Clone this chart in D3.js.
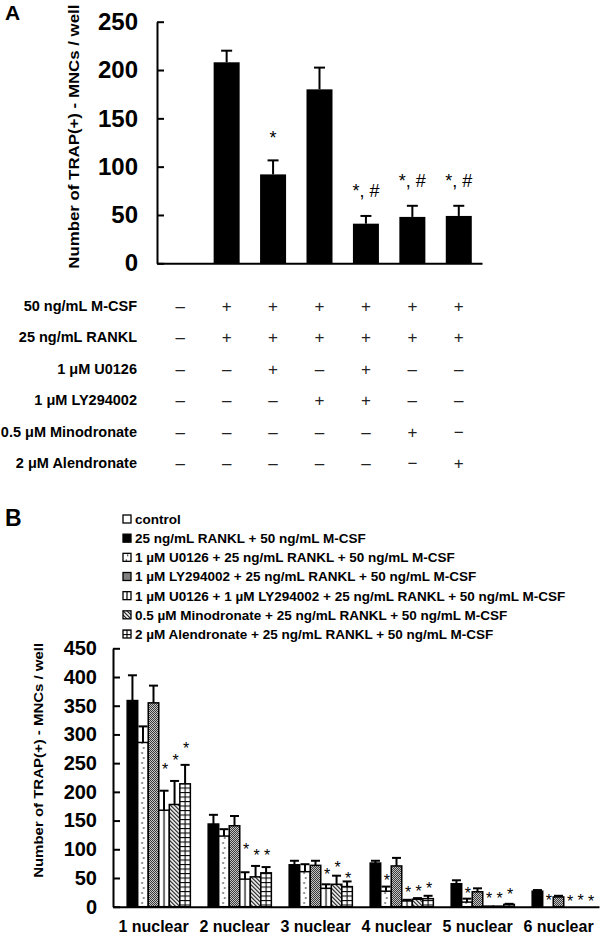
<!DOCTYPE html>
<html>
<head>
<meta charset="utf-8">
<script src="https://cdn.jsdelivr.net/npm/d3@7"></script>
<style>
  body { margin: 0; background: #fff; }
  svg { font-family: "Liberation Sans", Arial, sans-serif; }
</style>
</head>
<body>
<svg id="chart" width="600" height="939"></svg>
<script>
// ---- panel A data ----
const treatA = ["control", "M-CSF+RANKL", "+U0126", "+LY294002", "+U0126+LY294002", "+Minodronate", "+Alendronate"];
const meanA = [0, 208, 92, 180, 41, 48, 49];
const errA = [0, 12, 14.5, 22.5, 8, 11.5, 10.5];
const markA = ["", "", "*", "", "*, #", "*, #", "*, #"];
const markAtA = [0, 0, 123, 0, 69, 79, 79];
const ticksA = [0, 50, 100, 150, 200, 250];

const rowLabels = ["50 ng/mL M-CSF", "25 ng/mL RANKL", "1 \u03bcM U0126", "1 \u03bcM LY294002", "0.5 \u03bcM Minodronate", "2 \u03bcM Alendronate"];
const rowSigns = [
  ["\u2013", "+", "+", "+", "+", "+", "+"],
  ["\u2013", "+", "+", "+", "+", "+", "+"],
  ["\u2013", "\u2013", "+", "\u2013", "+", "\u2013", "\u2013"],
  ["\u2013", "\u2013", "\u2013", "+", "+", "\u2013", "\u2013"],
  ["\u2013", "\u2013", "\u2013", "\u2013", "\u2013", "+", "\u2212"],
  ["\u2013", "\u2013", "\u2013", "\u2013", "\u2013", "\u2212", "+"]
];

// ---- panel B data ----
const groupsB = ["1 nuclear", "2 nuclear", "3 nuclear", "4 nuclear", "5 nuclear", "6 nuclear"];
const seriesB = [
  "control",
  "25 ng/mL RANKL + 50 ng/mL M-CSF",
  "1 \u00b5M U0126 + 25 ng/mL RANKL + 50 ng/mL M-CSF",
  "1 \u00b5M LY294002 + 25 ng/mL RANKL + 50 ng/mL M-CSF",
  "1 \u00b5M U0126 + 1 \u00b5M LY294002 + 25 ng/mL RANKL + 50 ng/mL M-CSF",
  "0.5 \u00b5M Minodronate + 25 ng/mL RANKL + 50 ng/mL M-CSF",
  "2 \u00b5M Alendronate + 25 ng/mL RANKL + 50 ng/mL M-CSF"
];
// [group][series]
const meanB = [
  [0, 359, 286, 355, 168, 178, 214],
  [0, 144, 123, 141, 48, 52, 59],
  [0, 73, 61, 72, 32, 39, 35],
  [0, 76, 27, 71, 10, 13, 14],
  [0, 40, 8, 26, 1, 1, 4],
  [0, 27, 0, 17, 0, 0, 0]
];
const errB = [
  [0, 44, 28, 30, 34, 41, 33],
  [0, 16, 12, 17, 12, 19, 10],
  [0, 7, 13, 8, 7, 15, 9],
  [0, 4, 8, 14, 2, 2, 5],
  [0, 6, 6, 6, 0, 0, 1],
  [0, 2, 0, 2, 0, 0, 0]
];
// height (data units) of the "*" marks, null = none
const starsB = [
  [null, null, null, null, 245, 261, 281],
  [null, null, null, null, 106, 95, 96],
  [null, null, null, null, 63, 74, 56],
  [null, null, 52, null, 31, 32, 38],
  [null, null, 29, null, 20, 20, 27],
  [null, null, 17, null, 15, 17, 16]
];
const ticksB = d3.range(0, 451, 50);

const svg = d3.select("#chart");

function styleAxis(g, size) {
  g.selectAll("path, line").attr("stroke", "#000").attr("stroke-width", 2);
  g.selectAll("text").attr("fill", "#000").attr("font-size", size).attr("font-weight", "bold")
    .attr("font-family", '"Liberation Sans", Arial, sans-serif');
}

// ================= PANEL A =================
const xA = d3.scaleBand().domain(d3.range(treatA.length)).range([157, 482])
  .paddingInner(0.44).paddingOuter(0.22);
const yA = d3.scaleLinear().domain([0, 250]).range([263.3, 21.7]);
const bwA = xA.bandwidth();

svg.append("text").attr("x", 5).attr("y", 20).attr("font-size", 21).attr("font-weight", "bold").text("A");

svg.append("g").attr("transform", "translate(157,0)")
  .call(d3.axisLeft(yA).tickValues(ticksA).tickSizeInner(-7).tickSizeOuter(0).tickPadding(19))
  .call(g => styleAxis(g, 24));

svg.append("g").attr("transform", `translate(0,${yA(0)})`)
  .call(d3.axisBottom(xA).tickSize(0).tickFormat(""))
  .call(g => styleAxis(g, 10));

svg.append("text")
  .attr("transform", `translate(79,${(yA(0) + 10) / 2}) rotate(-90)`)
  .attr("text-anchor", "middle").attr("font-size", 14).attr("font-weight", "bold")
  .attr("textLength", 264).attr("lengthAdjust", "spacingAndGlyphs")
  .text("Number of TRAP(+) - MNCs / well");

const barsA = svg.append("g");
barsA.selectAll("rect").data(meanA).join("rect")
  .attr("x", (d, i) => xA(i)).attr("y", d => yA(d))
  .attr("width", bwA).attr("height", d => yA(0) - yA(d))
  .attr("fill", "#000");

const errGA = svg.append("g").attr("stroke", "#000").attr("stroke-width", 2);
meanA.forEach((m, i) => {
  if (!errA[i]) return;
  const cx = xA(i) + bwA / 2;
  errGA.append("line").attr("x1", cx).attr("x2", cx).attr("y1", yA(m)).attr("y2", yA(m + errA[i]));
  errGA.append("line").attr("x1", cx - 5.5).attr("x2", cx + 5.5).attr("y1", yA(m + errA[i])).attr("y2", yA(m + errA[i]));
});

svg.append("g").selectAll("text").data(markA).join("text")
  .attr("x", (d, i) => xA(i) + bwA / 2).attr("y", (d, i) => yA(markAtA[i]))
  .attr("text-anchor", "middle").attr("font-size", 18)
  .text(d => d);

// table of treatments
const rowY = d3.scalePoint().domain(d3.range(rowLabels.length)).range([306, 463]);
const table = svg.append("g");
table.selectAll("text.lab").data(rowLabels).join("text").attr("class", "lab")
  .attr("x", 137).attr("y", (d, i) => rowY(i)).attr("dy", "0.35em")
  .attr("text-anchor", "end").attr("font-size", 14.5).attr("font-weight", "bold")
  .text(d => d);
rowSigns.forEach((row, r) => {
  table.append("g").selectAll("text").data(row).join("text")
    .attr("x", (d, i) => xA(i) + bwA / 2).attr("y", rowY(r)).attr("dy", "0.35em")
    .attr("text-anchor", "middle").attr("font-size", 17).attr("fill", "#222")
    .text(d => d);
});

// ================= PANEL B =================
const x0 = d3.scaleBand().domain(groupsB).range([113, 599]).paddingInner(0.09).paddingOuter(0.045);
const x1 = d3.scaleBand().domain(d3.range(seriesB.length)).range([0, x0.bandwidth()]);
const yB = d3.scaleLinear().domain([0, 450]).range([906.7, 648.3]);
const bwB = x1.bandwidth();

// fill patterns, drawn in each bar's own coordinates (bar left edge at x = 0)
const defs = svg.append("defs");
function makePatterns(suffix, w) {
  const dots = defs.append("pattern").attr("id", "dots" + suffix)
    .attr("patternUnits", "userSpaceOnUse").attr("width", w).attr("height", 10);
  dots.append("rect").attr("width", w).attr("height", 10).attr("fill", "#fff");
  dots.append("circle").attr("cx", w * 0.42).attr("cy", 3).attr("r", 0.8).attr("fill", "#000");
  dots.append("circle").attr("cx", w * 0.58).attr("cy", 8).attr("r", 0.8).attr("fill", "#000");

  const chk = defs.append("pattern").attr("id", "chk" + suffix)
    .attr("patternUnits", "userSpaceOnUse").attr("width", 2).attr("height", 2);
  chk.append("rect").attr("width", 2).attr("height", 2).attr("fill", "#fff");
  chk.append("rect").attr("width", 1).attr("height", 1).attr("fill", "#000");
  chk.append("rect").attr("x", 1).attr("y", 1).attr("width", 1).attr("height", 1).attr("fill", "#000");

  const vert = defs.append("pattern").attr("id", "vert" + suffix)
    .attr("patternUnits", "userSpaceOnUse").attr("width", w).attr("height", 4);
  vert.append("rect").attr("width", w).attr("height", 4).attr("fill", "#fff");
  vert.append("line").attr("x1", w / 2).attr("x2", w / 2).attr("y1", 0).attr("y2", 4)
    .attr("stroke", "#000").attr("stroke-width", 1.2);

  const diag = defs.append("pattern").attr("id", "diag" + suffix)
    .attr("patternUnits", "userSpaceOnUse").attr("width", 4).attr("height", 4);
  diag.append("rect").attr("width", 4).attr("height", 4).attr("fill", "#fff");
  diag.append("path").attr("d", "M0,0L4,4M-1,3L1,5M3,-1L5,1")
    .attr("stroke", "#000").attr("stroke-width", 1.1);

  const grid = defs.append("pattern").attr("id", "grid" + suffix)
    .attr("patternUnits", "userSpaceOnUse").attr("width", w).attr("height", 4.5);
  grid.append("rect").attr("width", w).attr("height", 4.5).attr("fill", "#fff");
  grid.append("line").attr("x1", w / 2).attr("x2", w / 2).attr("y1", 0).attr("y2", 4.5)
    .attr("stroke", "#000").attr("stroke-width", 1.1);
  grid.append("line").attr("x1", 0).attr("x2", w).attr("y1", 0.5).attr("y2", 0.5)
    .attr("stroke", "#000").attr("stroke-width", 1.1);
}
makePatterns("", bwB);
makePatterns("L", 8);
const fills = s => ["#fff", "#000", `url(#dots${s})`, `url(#chk${s})`, `url(#vert${s})`, `url(#diag${s})`, `url(#grid${s})`];

svg.append("text").attr("x", 5).attr("y", 526).attr("font-size", 23).attr("font-weight", "bold").text("B");

// legend
const legY = d3.scalePoint().domain(d3.range(seriesB.length)).range([519, 634]);
const leg = svg.append("g").selectAll("g").data(seriesB).join("g")
  .attr("transform", (d, i) => `translate(123,${legY(i)})`);
leg.append("rect").attr("x", 0).attr("y", -4).attr("width", 8).attr("height", 8)
  .attr("fill", (d, i) => fills("L")[i]).attr("stroke", "#000").attr("stroke-width", 1.3);
leg.append("text").attr("x", 12).attr("dy", "0.36em")
  .attr("font-size", 13.5).attr("font-weight", "bold").text(d => d);

// axes
svg.append("g").attr("transform", "translate(113,0)")
  .call(d3.axisLeft(yB).tickValues(ticksB).tickSizeInner(-7).tickSizeOuter(0).tickPadding(16))
  .call(g => styleAxis(g, 20));

svg.append("g").attr("transform", `translate(0,${yB(0)})`)
  .call(d3.axisBottom(x0).tickSize(0).tickPadding(13.5))
  .call(g => styleAxis(g, 16));

svg.append("text")
  .attr("transform", `translate(43,${(yB(0) + 642) / 2 - 14}) rotate(-90)`)
  .attr("text-anchor", "middle").attr("font-size", 13).attr("font-weight", "bold")
  .attr("textLength", 235).attr("lengthAdjust", "spacingAndGlyphs")
  .text("Number of TRAP(+) - MNCs / well");

// bars
const grp = svg.append("g").selectAll("g").data(groupsB).join("g")
  .attr("transform", d => `translate(${x0(d)},0)`);
grp.each(function (gname, gi) {
  const bars = d3.select(this).selectAll("g").data(meanB[gi]).join("g")
    .attr("transform", (d, si) => `translate(${x1(si)},0)`);
  bars.filter((d, si) => si > 0).append("rect")
    .attr("x", 0).attr("y", d => yB(d))
    .attr("width", bwB).attr("height", d => yB(0) - yB(d))
    .attr("fill", (d, si) => fills("")[si + 1])
    .attr("stroke", "#000").attr("stroke-width", 1.5);
  bars.each(function (m, si) {
    const e = errB[gi][si];
    const g = d3.select(this).append("g").attr("stroke", "#000").attr("stroke-width", 2);
    if (e > 0) {
      g.append("line").attr("x1", bwB / 2).attr("x2", bwB / 2).attr("y1", yB(m)).attr("y2", yB(m + e));
      g.append("line").attr("x1", bwB / 2 - 4.5).attr("x2", bwB / 2 + 4.5).attr("y1", yB(m + e)).attr("y2", yB(m + e));
    }
    const st = starsB[gi][si];
    if (st != null) {
      d3.select(this).append("text").attr("x", bwB / 2 + 1).attr("y", yB(st) + 9)
        .attr("text-anchor", "middle").attr("font-size", 16).text("*");
    }
  });
});
</script>
</body>
</html>
